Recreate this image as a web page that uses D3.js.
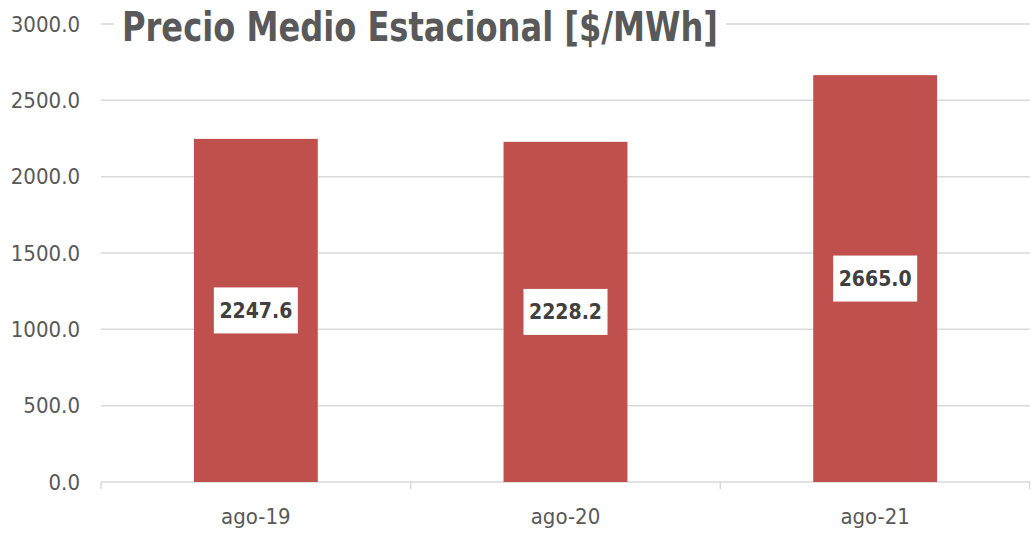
<!DOCTYPE html>
<html>
<head>
<meta charset="utf-8">
<script src="https://cdn.jsdelivr.net/npm/d3@7"></script>
<style>
  body { margin: 0; background: #fff; }
  text { font-family: "Liberation Sans Narrow", "DejaVu Sans Condensed", "Open Sans", sans-serif; }
</style>
</head>
<body>
<svg id="chart"></svg>
<script>
const categories = ['ago-19', 'ago-20', 'ago-21'],
values = [2247.6, 2228.2, 2665.0],
yTicks = [0, 500, 1000, 1500, 2000, 2500, 3000],
title = 'Precio Medio Estacional [$/MWh]',
width = 1031,
height = 534,
margin = {top: 24, right: 1, bottom: 52, left: 101};

const svg = d3.select('#chart')
  .attr('width', width)
  .attr('height', height);

const x = d3.scaleBand()
  .domain(categories)
  .range([margin.left, width - margin.right])
  .paddingInner(0.6)
  .paddingOuter(0.3);

const y = d3.scaleLinear()
  .domain([0, 3000])
  .range([height - margin.bottom, margin.top]);

// gridlines
svg.append('g')
  .selectAll('line')
  .data(yTicks)
  .enter().append('line')
  .attr('x1', margin.left)
  .attr('x2', width - margin.right)
  .attr('y1', d => y(d))
  .attr('y2', d => y(d))
  .attr('stroke', '#d9d9d9')
  .attr('stroke-width', 1.5);

// y labels
svg.append('g')
  .selectAll('text')
  .data(yTicks)
  .enter().append('text')
  .attr('x', 80)
  .attr('y', d => y(d))
  .attr('dy', '0.35em')
  .attr('text-anchor', 'end')
  .attr('font-size', 22)
  .attr('fill', '#595959')
  .text(d => d.toFixed(1));

// category boundary ticks
const bounds = categories.map(c => x(c) - x.step() * x.paddingOuter())
  .concat(width - margin.right - 0.5);
svg.append('g')
  .selectAll('line')
  .data(bounds)
  .enter().append('line')
  .attr('x1', d => d)
  .attr('x2', d => d)
  .attr('y1', y(0))
  .attr('y2', y(0) + 7)
  .attr('stroke', '#d9d9d9')
  .attr('stroke-width', 1.5);

// bars
svg.append('g')
  .selectAll('rect')
  .data(values)
  .enter().append('rect')
  .attr('x', (d, i) => x(categories[i]))
  .attr('width', x.bandwidth())
  .attr('y', d => y(d))
  .attr('height', d => y(0) - y(d))
  .attr('fill', '#c0504d');

// value labels
const labels = svg.append('g')
  .selectAll('g')
  .data(values)
  .enter().append('g')
  .attr('transform', (d, i) => `translate(${x(categories[i]) + x.bandwidth() / 2},${(y(d) + y(0)) / 2})`);

labels.append('rect')
  .attr('x', -42)
  .attr('y', -23)
  .attr('width', 84)
  .attr('height', 46)
  .attr('fill', '#fff');

labels.append('text')
  .attr('text-anchor', 'middle')
  .attr('dy', '0.36em')
  .attr('font-size', 21)
  .attr('font-weight', 'bold')
  .attr('fill', '#404040')
  .text(d => d.toFixed(1));

// x labels
svg.append('g')
  .selectAll('text')
  .data(categories)
  .enter().append('text')
  .attr('x', d => x(d) + x.bandwidth() / 2)
  .attr('y', 524)
  .attr('text-anchor', 'middle')
  .attr('font-size', 22)
  .attr('fill', '#595959')
  .text(d => d);

// title with white backing
svg.append('rect')
  .attr('x', 114)
  .attr('y', 2)
  .attr('width', 612)
  .attr('height', 46)
  .attr('fill', '#fff');

svg.append('text')
  .attr('x', 122)
  .attr('y', 41)
  .attr('font-size', 40)
  .attr('font-weight', 'bold')
  .attr('fill', '#595959')
  .attr('textLength', 596)
  .attr('lengthAdjust', 'spacingAndGlyphs')
  .text(title);
</script>
</body>
</html>
